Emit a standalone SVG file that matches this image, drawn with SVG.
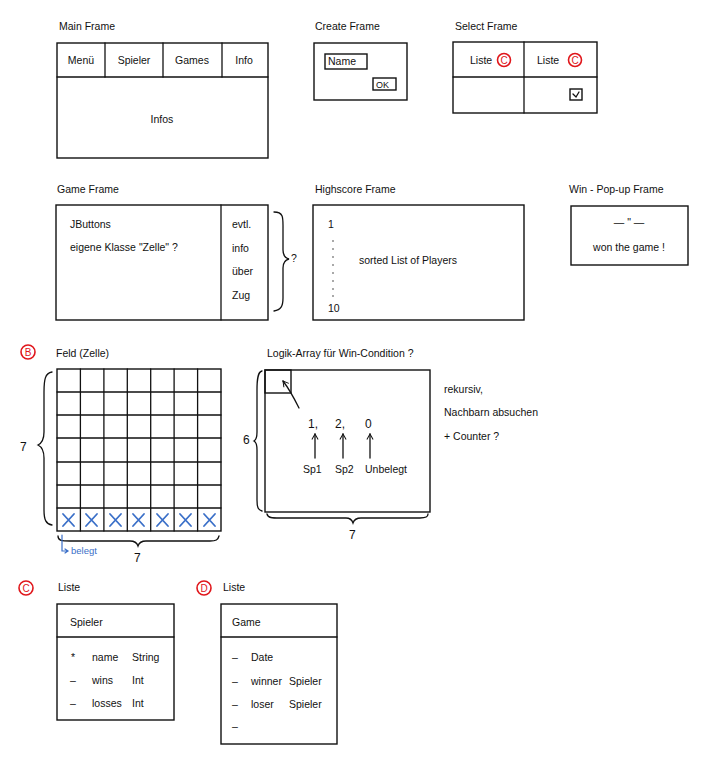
<svg xmlns="http://www.w3.org/2000/svg" width="708" height="762" viewBox="0 0 708 762">
<defs>
<style>
text{font-family:"Liberation Sans","DejaVu Sans",sans-serif;font-size:10.5px;fill:#111}
.box{fill:none;stroke:#111;stroke-width:1.4}
.ln{fill:none;stroke:#111;stroke-width:1.3;stroke-linecap:round}
.red{fill:none;stroke:#e0161b;stroke-width:1.6}
.rt{fill:#e0161b;font-size:10px}
.blue{fill:none;stroke:#3a6fc8;stroke-width:1.8;stroke-linecap:round}
.bt{fill:#3a6fc8;font-size:9.5px}
.c{text-anchor:middle}
.big{font-size:12px}
</style>
<marker id="ah" viewBox="0 0 10 10" refX="8" refY="5" markerWidth="6" markerHeight="6" orient="auto-start-reverse"><path d="M1,1 L8,5 L1,9" fill="none" stroke="#111" stroke-width="1.3"/></marker>
</defs>
<rect width="708" height="762" fill="#fff"/>

<g id="main-frame">
<text x="59" y="30">Main Frame</text>
<rect class="box" x="57" y="43" width="211" height="115"/>
<line class="ln" x1="57" y1="77" x2="268" y2="77"/>
<line class="ln" x1="105" y1="43" x2="105" y2="77"/>
<line class="ln" x1="163" y1="43" x2="163" y2="77"/>
<line class="ln" x1="222" y1="43" x2="222" y2="77"/>
<text class="c" x="81" y="64">Menü</text>
<text class="c" x="134" y="64">Spieler</text>
<text class="c" x="192" y="64">Games</text>
<text class="c" x="244" y="64">Info</text>
<text class="c" x="162" y="123">Infos</text>
</g>

<g id="create-frame">
<text x="315" y="30">Create Frame</text>
<rect class="box" x="314" y="43" width="93" height="57"/>
<rect class="box" x="325" y="54" width="42" height="15"/>
<text x="328" y="65">Name</text>
<rect class="box" x="373" y="78" width="23" height="12"/>
<text x="376" y="88" style="font-size:9px">OK</text>
</g>

<g id="select-frame">
<text x="455" y="30">Select Frame</text>
<rect class="box" x="453" y="42" width="144" height="71"/>
<line class="ln" x1="524" y1="42" x2="524" y2="113"/>
<line class="ln" x1="453" y1="77" x2="597" y2="77"/>
<text x="470" y="64">Liste</text>
<circle class="red" cx="504" cy="60" r="6.5"/><text class="rt c" x="504" y="63.5">C</text>
<text x="537" y="64">Liste</text>
<circle class="red" cx="575" cy="60" r="6.5"/><text class="rt c" x="575" y="63.5">C</text>
<rect class="box" x="570" y="89" width="12" height="11"/>
<path class="ln" d="M573,94 L576,97 L579,92"/>
</g>

<g id="game-frame">
<text x="57" y="193">Game Frame</text>
<rect class="box" x="56" y="205" width="212" height="115"/>
<line class="ln" x1="221" y1="205" x2="221" y2="320"/>
<text x="70" y="228">JButtons</text>
<text x="70" y="251">eigene Klasse "Zelle" ?</text>
<text x="232" y="228">evtl.</text>
<text x="232" y="252">info</text>
<text x="232" y="275">über</text>
<text x="232" y="299">Zug</text>
<path class="ln" d="M274,212 C284,212 283,218 283,230 L283,250 C283,256 285,258 289,259 C285,260 283,263 283,268 L283,298 C283,306 281,310 274,311"/>
<text x="291" y="262">?</text>
</g>

<g id="highscore-frame">
<text x="315" y="193">Highscore Frame</text>
<rect class="box" x="313" y="205" width="211" height="115"/>
<text x="328" y="228">1</text>
<g fill="#111"><circle cx="333" cy="241" r="0.7"/><circle cx="333" cy="249" r="0.7"/><circle cx="333" cy="257" r="0.7"/><circle cx="333" cy="265" r="0.7"/><circle cx="333" cy="273" r="0.7"/><circle cx="333" cy="281" r="0.7"/><circle cx="333" cy="289" r="0.7"/><circle cx="333" cy="296" r="0.7"/></g>
<text x="328" y="312">10</text>
<text x="359" y="264">sorted List of Players</text>
</g>

<g id="win-popup-frame">
<text x="569" y="193">Win - Pop-up Frame</text>
<rect class="box" x="571" y="206" width="117" height="59"/>
<text class="c" x="629" y="226">— " —</text>
<text class="c" x="629" y="251">won the game !</text>
</g>

<g id="feld">
<circle class="red" cx="28" cy="352" r="7"/><text class="rt c" x="28" y="355.5">B</text>
<text x="56" y="357">Feld (Zelle)</text>
<rect class="box" x="57" y="369" width="164" height="162"/>
<g class="ln">
<line x1="80.4" y1="369" x2="80.4" y2="531"/><line x1="103.9" y1="369" x2="103.9" y2="531"/><line x1="127.3" y1="369" x2="127.3" y2="531"/><line x1="150.7" y1="369" x2="150.7" y2="531"/><line x1="174.1" y1="369" x2="174.1" y2="531"/><line x1="197.6" y1="369" x2="197.6" y2="531"/>
<line x1="57" y1="392" x2="221" y2="392"/><line x1="57" y1="415" x2="221" y2="415"/><line x1="57" y1="438" x2="221" y2="438"/><line x1="57" y1="462" x2="221" y2="462"/><line x1="57" y1="485" x2="221" y2="485"/><line x1="57" y1="508" x2="221" y2="508"/>
</g>
<g class="blue">
<path d="M63,514 L74,526 M74,514 L63,526"/>
<path d="M86,514 L97,526 M97,514 L86,526"/>
<path d="M110,514 L121,526 M121,514 L110,526"/>
<path d="M133,514 L144,526 M144,514 L133,526"/>
<path d="M157,514 L168,526 M168,514 L157,526"/>
<path d="M180,514 L191,526 M191,514 L180,526"/>
<path d="M204,514 L215,526 M215,514 L204,526"/>
</g>
<path class="ln" d="M52,372 C45,373 44,380 44,392 L44,432 C44,440 42,443 38,445 C42,447 44,450 44,458 L44,510 C44,520 46,524 52,525"/>
<text class="big" x="20" y="451">7</text>
<path class="ln" d="M58,536 C58,541 62,541 70,541 L130,541 C135,541 137,543 138,546 C139,543 141,541 146,541 L210,541 C216,541 218,540 219,536"/>
<text class="big" x="134" y="562">7</text>
<path class="blue" style="stroke-width:1.2" d="M62,535 L62,551 L67,551 M65,549 L68,551 L65,553"/>
<text class="bt" x="71" y="554">belegt</text>
</g>

<g id="logik-array">
<text x="267" y="357">Logik-Array für Win-Condition ?</text>
<rect class="box" x="265" y="370" width="165" height="142"/>
<rect class="box" x="265" y="370" width="26" height="23"/>
<path class="ln" d="M299,408 C295,400 290,390 283,381" marker-end="url(#ah)"/>
<text class="big" x="308" y="428">1,</text>
<text class="big" x="335" y="428">2,</text>
<text class="big" x="365" y="428">0</text>
<line class="ln" x1="315" y1="458" x2="315" y2="434" marker-end="url(#ah)"/>
<line class="ln" x1="343" y1="458" x2="343" y2="434" marker-end="url(#ah)"/>
<line class="ln" x1="370" y1="458" x2="370" y2="434" marker-end="url(#ah)"/>
<text x="303" y="473">Sp1</text>
<text x="335" y="473">Sp2</text>
<text x="365" y="473">Unbelegt</text>
<path class="ln" d="M262,371 C258,372 257,378 257,390 L257,432 C257,438 256,440 254,441 C256,442 257,445 257,450 L257,500 C257,507 258,510 262,511"/>
<text class="big" x="243" y="444">6</text>
<path class="ln" d="M267,514 C268,518 272,518 280,518 L346,518 C350,518 352,520 353,523 C354,520 356,518 361,518 L420,518 C426,518 428,517 428,514"/>
<text class="big" x="349" y="539">7</text>
</g>

<g id="notes">
<text x="444" y="393">rekursiv,</text>
<text x="444" y="416">Nachbarn absuchen</text>
<text x="444" y="440">+ Counter ?</text>
</g>

<g id="liste-spieler">
<circle class="red" cx="26" cy="588" r="7"/><text class="rt c" x="26" y="591.5">C</text>
<text x="58" y="591">Liste</text>
<rect class="box" x="57" y="604" width="117" height="116"/>
<line class="ln" x1="57" y1="637" x2="174" y2="637"/>
<text x="70" y="626">Spieler</text>
<text x="71" y="661">*</text><text x="92" y="661">name</text><text x="132" y="661">String</text>
<text x="70" y="684">–</text><text x="92" y="684">wins</text><text x="132" y="684">Int</text>
<text x="70" y="707">–</text><text x="92" y="707">losses</text><text x="132" y="707">Int</text>
</g>

<g id="liste-game">
<circle class="red" cx="204" cy="588" r="7"/><text class="rt c" x="204" y="591.5">D</text>
<text x="223" y="591">Liste</text>
<rect class="box" x="221" y="604" width="116" height="140"/>
<line class="ln" x1="221" y1="637" x2="337" y2="637"/>
<text x="232" y="626">Game</text>
<text x="232" y="661">–</text><text x="251" y="661">Date</text>
<text x="232" y="685">–</text><text x="251" y="685">winner</text><text x="289" y="685">Spieler</text>
<text x="232" y="708">–</text><text x="251" y="708">loser</text><text x="289" y="708">Spieler</text>
<text x="232" y="730">–</text>
</g>
</svg>
